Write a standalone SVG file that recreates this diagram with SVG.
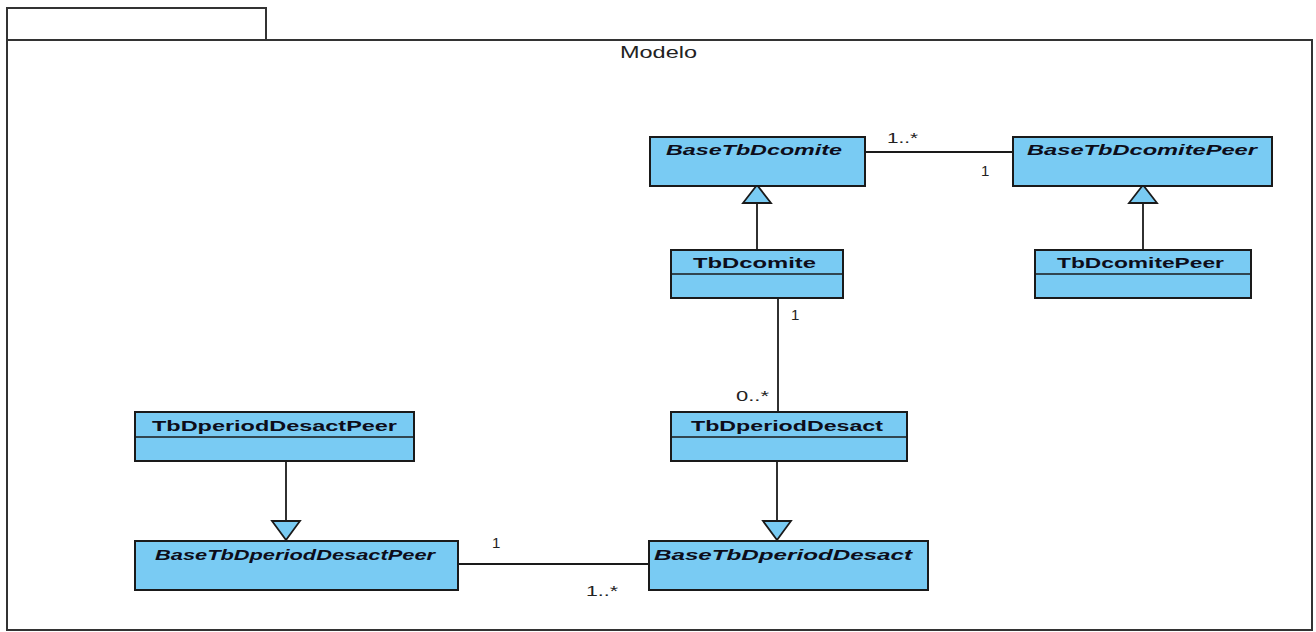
<svg xmlns="http://www.w3.org/2000/svg" width="1316" height="632" viewBox="0 0 1316 632">
<style>
.pkg{fill:#ffffff;stroke:#333;stroke-width:2}
.cls{fill:#79cbf3;stroke:#1a1a1a;stroke-width:2}
.div{stroke:#1a1a1a;stroke-width:1.5}
.nm{font-family:"Liberation Sans",Arial,sans-serif;font-size:15px;font-weight:bold;fill:#0d0d1a}
.it{font-style:italic}
.lbl{font-family:"Liberation Sans",Arial,sans-serif;font-size:15px;fill:#222}
.ln{stroke:#1a1a1a;stroke-width:1.8;fill:none}
.tri{fill:#79cbf3;stroke:#1a1a1a;stroke-width:1.8}
</style>
<rect x="0" y="0" width="1316" height="632" fill="#ffffff"/>
<g id="package">
<rect class="pkg" x="7" y="8" width="259" height="32"/>
<rect class="pkg" x="7" y="40" width="1305" height="590"/>
<text class="lbl" x="620" y="58" style="font-size:16px" textLength="77" lengthAdjust="spacingAndGlyphs">Modelo</text>
</g>
<g id="connectors">
<line class="ln" x1="865" y1="152" x2="1013" y2="152"/>
<text class="lbl" x="887" y="143" textLength="31" lengthAdjust="spacingAndGlyphs">1..*</text>
<text class="lbl" x="981" y="176">1</text>
<line class="ln" x1="757" y1="203" x2="757" y2="250"/>
<polygon class="tri" points="757,185 743,203 771,203"/>
<line class="ln" x1="1143" y1="203" x2="1143" y2="250"/>
<polygon class="tri" points="1143,185 1129,203 1157,203"/>
<line class="ln" x1="778" y1="298" x2="778" y2="412"/>
<text class="lbl" x="791" y="320">1</text>
<text class="lbl" x="736" y="401" textLength="33" lengthAdjust="spacingAndGlyphs">0..*</text>
<line class="ln" x1="777" y1="461" x2="777" y2="521"/>
<polygon class="tri" points="777,540 763,521 791,521"/>
<line class="ln" x1="286" y1="461" x2="286" y2="521"/>
<polygon class="tri" points="286,540 272,521 300,521"/>
<line class="ln" x1="458" y1="564" x2="649" y2="564"/>
<text class="lbl" x="492" y="548">1</text>
<text class="lbl" x="586" y="596" textLength="32" lengthAdjust="spacingAndGlyphs">1..*</text>
</g>
<g id="BaseTbDcomite">
<rect class="cls" x="650" y="137" width="215" height="49"/>
<text class="nm it" x="666" y="155" textLength="176" lengthAdjust="spacingAndGlyphs">BaseTbDcomite</text>
</g>
<g id="BaseTbDcomitePeer">
<rect class="cls" x="1013" y="137" width="259" height="49"/>
<text class="nm it" x="1027" y="155" textLength="230" lengthAdjust="spacingAndGlyphs">BaseTbDcomitePeer</text>
</g>
<g id="TbDcomite">
<rect class="cls" x="671" y="250" width="172" height="48"/>
<line class="div" x1="671" y1="274" x2="843" y2="274"/>
<text class="nm" x="693" y="268" textLength="123" lengthAdjust="spacingAndGlyphs">TbDcomite</text>
</g>
<g id="TbDcomitePeer">
<rect class="cls" x="1035" y="250" width="216" height="48"/>
<line class="div" x1="1035" y1="274" x2="1251" y2="274"/>
<text class="nm" x="1057" y="268" textLength="167" lengthAdjust="spacingAndGlyphs">TbDcomitePeer</text>
</g>
<g id="TbDperiodDesact">
<rect class="cls" x="671" y="412" width="236" height="49"/>
<line class="div" x1="671" y1="437" x2="907" y2="437"/>
<text class="nm" x="691" y="431" textLength="192" lengthAdjust="spacingAndGlyphs">TbDperiodDesact</text>
</g>
<g id="TbDperiodDesactPeer">
<rect class="cls" x="135" y="412" width="279" height="49"/>
<line class="div" x1="135" y1="437" x2="414" y2="437"/>
<text class="nm" x="152" y="431" textLength="245" lengthAdjust="spacingAndGlyphs">TbDperiodDesactPeer</text>
</g>
<g id="BaseTbDperiodDesact">
<rect class="cls" x="649" y="541" width="279" height="49"/>
<text class="nm it" x="654" y="560" textLength="258" lengthAdjust="spacingAndGlyphs">BaseTbDperiodDesact</text>
</g>
<g id="BaseTbDperiodDesactPeer">
<rect class="cls" x="135" y="541" width="323" height="49"/>
<text class="nm it" x="155" y="560" textLength="280" lengthAdjust="spacingAndGlyphs">BaseTbDperiodDesactPeer</text>
</g>
</svg>
